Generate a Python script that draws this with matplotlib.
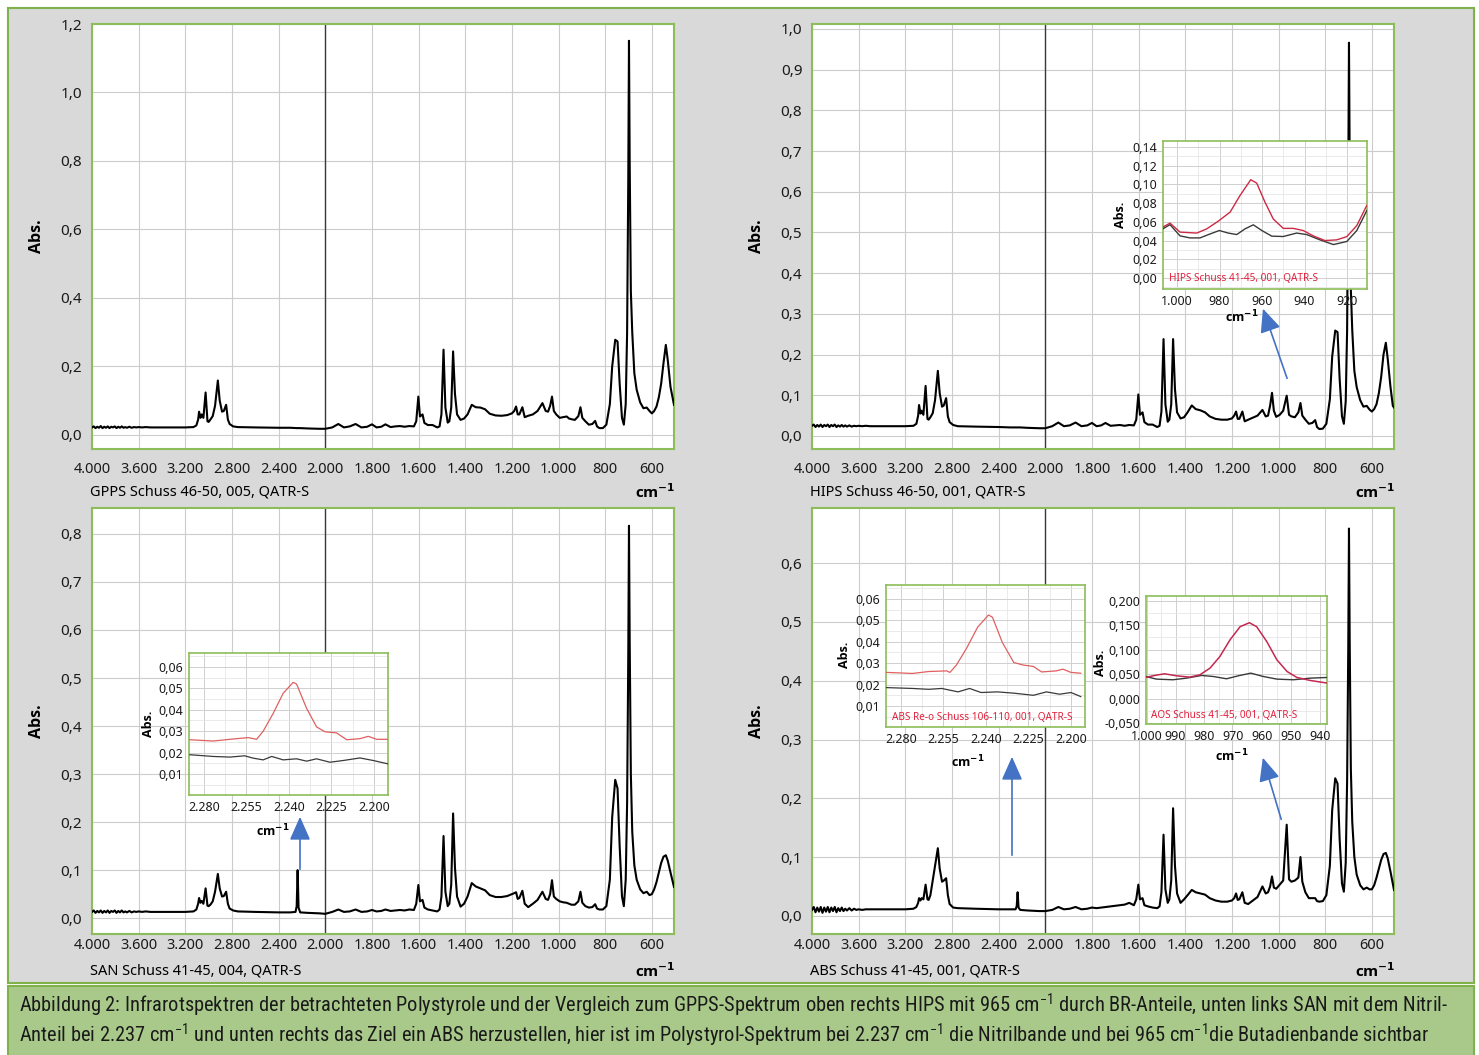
import numpy as np
import matplotlib
matplotlib.use('Agg')
import matplotlib.pyplot as plt
from matplotlib import font_manager as fm
from matplotlib.patches import Rectangle, FancyArrowPatch
from matplotlib.ticker import FixedLocator, MultipleLocator

plt.rcParams['font.family'] = ['Noto Sans', 'DejaVu Sans']

W, H = 1479, 1055

# ---------------- data ----------------
# main spectra: (wavenumber cm-1, absorbance)
gpps = [
    (4000, .022), (3985, .025), (3970, .020), (3955, .024), (3940, .021), (3925, .026),
    (3910, .020), (3895, .024), (3880, .021), (3865, .025), (3850, .020), (3835, .024),
    (3820, .022), (3805, .025), (3790, .020), (3775, .024), (3760, .021), (3745, .025),
    (3730, .021), (3715, .023), (3700, .021), (3680, .024), (3660, .021), (3640, .023),
    (3620, .022), (3600, .023), (3570, .022), (3540, .023), (3500, .022),
    (3400, .022), (3300, .022), (3200, .022), (3130, .023), (3105, .028), (3090, .045),
    (3082, .068), (3070, .050), (3060, .060), (3045, .050), (3026, .124), (3010, .040),
    (3000, .038), (2985, .045), (2965, .055), (2945, .085), (2921, .159), (2905, .100),
    (2885, .068), (2870, .070), (2850, .088), (2835, .045), (2820, .032), (2790, .025),
    (2750, .023), (2600, .022), (2400, .021), (2300, .021), (2255, .020), (2245, .020),
    (2237, .020), (2229, .020), (2215, .020), (2150, .019), (2050, .018), (2000, .018),
    (1970, .022), (1944, .032), (1920, .022), (1895, .025), (1870, .032), (1845, .022),
    (1820, .024), (1800, .031), (1780, .022), (1760, .024), (1742, .031), (1720, .023),
    (1700, .025), (1680, .026), (1660, .024), (1640, .026), (1620, .025), (1610, .040),
    (1601, .112), (1594, .054), (1583, .060), (1575, .035), (1560, .029), (1540, .029),
    (1520, .022), (1510, .025), (1502, .060), (1493, .249), (1485, .080), (1475, .036),
    (1468, .040), (1460, .080), (1452, .244), (1444, .120), (1435, .060), (1420, .044),
    (1405, .048), (1390, .060), (1372, .088), (1355, .081), (1335, .080), (1315, .075),
    (1295, .062), (1270, .057), (1245, .056), (1220, .058), (1200, .063), (1190, .070),
    (1182, .083), (1175, .060), (1168, .060), (1155, .081), (1145, .052), (1130, .056),
    (1110, .060), (1090, .070), (1069, .093), (1055, .070), (1045, .068), (1036, .085),
    (1028, .112), (1020, .070), (1010, .060), (995, .050), (980, .052), (965, .054),
    (955, .048), (945, .046), (930, .044), (915, .055), (906, .081), (898, .050),
    (885, .040), (870, .030), (855, .032), (843, .041), (835, .025), (825, .020),
    (810, .020), (795, .030), (780, .090), (770, .200), (757, .278), (747, .273),
    (738, .150), (728, .050), (720, .030), (712, .090), (706, .300), (701, .750),
    (698, 1.151), (695, .800), (690, .420), (684, .300), (675, .180), (665, .132),
    (650, .095), (636, .078), (622, .080), (610, .070), (600, .063), (590, .070),
    (580, .083), (570, .110), (560, .150), (550, .210), (540, .263), (532, .220),
    (520, .140), (505, .088),
]

hips = [
    (4000, .025), (3985, .028), (3970, .022), (3955, .027), (3940, .023), (3925, .028),
    (3910, .022), (3895, .027), (3880, .024), (3865, .028), (3850, .022), (3835, .027),
    (3820, .024), (3805, .028), (3790, .022), (3775, .026), (3760, .023), (3745, .027),
    (3730, .023), (3715, .026), (3700, .023), (3680, .026), (3660, .023), (3640, .025),
    (3620, .024), (3600, .025), (3570, .024), (3540, .025), (3500, .024),
    (3400, .024), (3300, .024), (3200, .024), (3130, .025), (3105, .030), (3090, .050),
    (3082, .076), (3070, .055), (3060, .062), (3045, .052), (3026, .123), (3010, .042),
    (3000, .040), (2985, .046), (2965, .056), (2945, .088), (2921, .160), (2905, .105),
    (2885, .072), (2870, .075), (2850, .093), (2835, .048), (2820, .034), (2790, .027),
    (2750, .024), (2600, .023), (2400, .022), (2300, .021), (2255, .021), (2245, .021),
    (2237, .021), (2229, .021), (2215, .021), (2150, .020), (2050, .019), (2000, .019),
    (1970, .024), (1944, .033), (1920, .024), (1895, .026), (1870, .033), (1845, .024),
    (1820, .026), (1800, .032), (1780, .024), (1760, .026), (1742, .032), (1720, .025),
    (1700, .026), (1680, .027), (1660, .025), (1640, .027), (1620, .026), (1610, .040),
    (1601, .102), (1594, .052), (1583, .058), (1575, .034), (1560, .028), (1540, .028),
    (1520, .022), (1510, .025), (1502, .060), (1493, .238), (1485, .078), (1475, .035),
    (1468, .040), (1460, .078), (1452, .238), (1444, .115), (1435, .058), (1420, .043),
    (1405, .046), (1390, .058), (1372, .075), (1355, .066), (1335, .063), (1315, .058),
    (1295, .048), (1270, .042), (1245, .040), (1220, .040), (1200, .043), (1190, .050),
    (1182, .060), (1175, .042), (1168, .042), (1155, .060), (1145, .036), (1130, .040),
    (1110, .045), (1090, .050), (1069, .064), (1055, .048), (1045, .050), (1036, .075),
    (1028, .106), (1020, .062), (1010, .047), (995, .052), (980, .062), (965, .099),
    (955, .052), (945, .048), (930, .046), (915, .058), (906, .081), (898, .050),
    (885, .040), (870, .030), (855, .032), (843, .039), (835, .022), (825, .017),
    (810, .018), (795, .030), (780, .090), (770, .195), (757, .259), (747, .255),
    (738, .140), (728, .048), (720, .030), (712, .085), (706, .260), (701, .650),
    (698, .966), (695, .680), (690, .360), (684, .260), (675, .160), (665, .120),
    (650, .088), (636, .072), (622, .074), (610, .065), (600, .060), (590, .066),
    (580, .078), (570, .105), (560, .145), (550, .200), (540, .229), (532, .190),
    (520, .120), (510, .074), (505, .070),
]

san = [
    (4000, .013), (3985, .016), (3970, .011), (3955, .015), (3940, .012), (3925, .016),
    (3910, .011), (3895, .015), (3880, .012), (3865, .016), (3850, .011), (3835, .015),
    (3820, .013), (3805, .016), (3790, .011), (3775, .015), (3760, .012), (3745, .016),
    (3730, .012), (3715, .014), (3700, .012), (3680, .015), (3660, .012), (3640, .014),
    (3620, .013), (3600, .014), (3570, .013), (3540, .014), (3500, .013),
    (3400, .013), (3300, .013), (3200, .013), (3130, .014), (3105, .018), (3090, .030),
    (3082, .042), (3070, .032), (3060, .036), (3045, .030), (3026, .062), (3010, .026),
    (3000, .025), (2985, .028), (2965, .035), (2945, .055), (2921, .092), (2905, .062),
    (2885, .045), (2870, .046), (2850, .055), (2835, .030), (2820, .020), (2790, .016),
    (2750, .014), (2600, .013), (2400, .012), (2300, .012), (2255, .013), (2245, .025),
    (2237, .100), (2229, .022), (2215, .012), (2150, .011), (2050, .010), (2000, .009),
    (1970, .013), (1944, .018), (1920, .013), (1895, .014), (1870, .018), (1845, .013),
    (1820, .014), (1800, .017), (1780, .014), (1760, .015), (1742, .018), (1720, .015),
    (1700, .016), (1680, .017), (1660, .016), (1640, .018), (1620, .017), (1610, .030),
    (1601, .069), (1594, .035), (1583, .038), (1575, .022), (1560, .018), (1540, .016),
    (1520, .014), (1510, .018), (1502, .045), (1493, .171), (1485, .055), (1475, .025),
    (1468, .030), (1460, .070), (1452, .218), (1444, .105), (1435, .045), (1420, .024),
    (1405, .030), (1390, .045), (1372, .073), (1355, .066), (1335, .062), (1315, .058),
    (1295, .048), (1270, .044), (1245, .044), (1220, .046), (1200, .050), (1190, .052),
    (1182, .054), (1175, .040), (1168, .042), (1155, .057), (1145, .030), (1130, .023),
    (1110, .030), (1090, .038), (1069, .055), (1055, .040), (1045, .038), (1036, .050),
    (1028, .079), (1020, .045), (1010, .040), (995, .035), (980, .033), (965, .032),
    (955, .030), (945, .028), (930, .028), (915, .035), (906, .055), (898, .032),
    (885, .025), (870, .022), (855, .023), (843, .029), (835, .020), (825, .018),
    (810, .018), (795, .025), (780, .080), (770, .210), (757, .288), (747, .270),
    (738, .150), (728, .045), (720, .025), (712, .080), (706, .240), (701, .550),
    (698, .817), (695, .580), (690, .300), (684, .180), (675, .110), (665, .080),
    (650, .060), (636, .052), (622, .055), (610, .048), (600, .050), (590, .060),
    (580, .075), (570, .095), (560, .115), (550, .128), (540, .131), (532, .120),
    (520, .095), (505, .065),
]

abs_ = [
    (4000, .010), (3985, .015), (3970, .006), (3955, .014), (3940, .007), (3925, .015),
    (3910, .005), (3895, .014), (3880, .007), (3865, .015), (3850, .006), (3835, .014),
    (3820, .008), (3805, .015), (3790, .006), (3775, .013), (3760, .008), (3745, .014),
    (3730, .008), (3715, .012), (3700, .009), (3680, .013), (3660, .009), (3640, .012),
    (3620, .010), (3600, .011), (3570, .010), (3540, .011), (3500, .011),
    (3400, .011), (3300, .011), (3200, .011), (3130, .012), (3105, .015), (3090, .022),
    (3082, .030), (3070, .026), (3060, .030), (3045, .028), (3026, .053), (3010, .028),
    (3000, .027), (2985, .035), (2965, .060), (2945, .085), (2921, .115), (2905, .080),
    (2885, .058), (2870, .060), (2850, .064), (2835, .035), (2820, .020), (2790, .014),
    (2750, .013), (2600, .012), (2400, .011), (2300, .011), (2255, .011), (2245, .016),
    (2237, .040), (2229, .014), (2215, .010), (2150, .009), (2050, .008), (2000, .008),
    (1970, .010), (1944, .015), (1920, .011), (1895, .012), (1870, .015), (1845, .011),
    (1820, .012), (1800, .014), (1780, .013), (1760, .014), (1742, .015), (1720, .016),
    (1700, .017), (1680, .018), (1660, .019), (1640, .022), (1620, .018), (1610, .028),
    (1601, .053), (1594, .028), (1583, .030), (1575, .018), (1560, .016), (1540, .014),
    (1520, .013), (1510, .016), (1502, .040), (1493, .138), (1485, .045), (1475, .022),
    (1468, .028), (1460, .060), (1452, .183), (1444, .085), (1435, .038), (1420, .022),
    (1405, .028), (1390, .035), (1372, .044), (1355, .040), (1335, .038), (1315, .036),
    (1295, .030), (1270, .026), (1245, .024), (1220, .024), (1200, .026), (1190, .030),
    (1182, .038), (1175, .027), (1168, .028), (1155, .040), (1145, .022), (1130, .020),
    (1110, .026), (1090, .032), (1069, .050), (1055, .038), (1045, .040), (1036, .050),
    (1028, .067), (1020, .048), (1010, .046), (995, .053), (980, .060), (965, .155),
    (955, .062), (945, .058), (930, .060), (915, .065), (906, .100), (898, .058),
    (885, .040), (870, .030), (855, .030), (843, .030), (835, .025), (825, .024),
    (810, .025), (795, .035), (780, .085), (770, .180), (757, .234), (747, .225),
    (738, .130), (728, .055), (720, .041), (712, .090), (706, .230), (701, .460),
    (698, .659), (695, .470), (690, .250), (684, .160), (675, .100), (665, .070),
    (650, .052), (636, .045), (622, .048), (610, .045), (600, .045), (590, .052),
    (580, .065), (570, .080), (560, .095), (550, .105), (540, .107), (532, .098),
    (520, .075), (505, .044),
]

# inset curves
hips_in_wn = [1006.7, 1003.3, 998.6, 990.7, 986.0, 980.6, 975.0, 970.4, 965.3, 962.5,
              958.6, 954.7, 950.0, 945.3, 940.6, 935.9, 930.4, 924.9, 920.1, 915.4, 910.7]
hips_in_red = [.0543, .0586, .049, .048, .0525, .0607, .0704, .088, .105, .1014,
               .081, .063, .053, .053, .0507, .045, .040, .0407, .0442, .056, .0775]
hips_in_blk_wn = [1006.7, 1003.3, 998.6, 993.9, 989.2, 984.5, 980.1, 975.9, 971.9, 968.0, 964.1,
                  960.1, 955.4, 950.0, 943.7, 939.0, 932.7, 926.4, 920.1, 915.4, 910.7]
hips_in_blk = [.0525, .057, .045, .0428, .0428, .047, .0507, .048, .0464, .0525, .0568,
               .0507, .0447, .0443, .048, .0464, .0407, .0357, .039, .0507, .072]

san_in_red_wn = [2286.6, 2275.6, 2267.8, 2259.1, 2255.2, 2252.1, 2247.4, 2242.7, 2238.0, 2236.4,
                 2231.7, 2227.0, 2223.0, 2217.6, 2212.8, 2206.6, 2202.7, 2198.7, 2193.3]
san_in_red = [.026, .0254, .0262, .027, .0262, .030, .0383, .0477, .0528, .052,
              .0407, .032, .0297, .0292, .026, .0265, .0276, .0262, .0262]
san_in_blk_wn = [2286.6, 2275.6, 2267.8, 2260.8, 2256.8, 2252.1, 2248.1, 2242.7, 2236.4, 2231.7,
                 2227.0, 2220.7, 2214.5, 2206.6, 2200.3, 2193.3]
san_in_blk = [.019, .0182, .0179, .0185, .0174, .0166, .0182, .0166, .0171, .016,
              .0171, .0155, .0163, .0175, .0163, .0147]

abs1_in_red_wn = [2286.9, 2274.6, 2266.9, 2258.5, 2256.9, 2253.9, 2249.3, 2243.9, 2238.8, 2236.9,
                  2232.3, 2226.9, 2222.3, 2217.7, 2213.8, 2206.9, 2203.8, 2200.0, 2195.4]
abs1_in_red = [.0257, .0252, .0261, .0264, .0257, .0291, .0366, .0468, .0525, .0514,
               .0397, .0303, .0291, .0285, .0259, .0264, .0272, .0257, .0253]
abs1_in_blk_wn = [2286.9, 2274.6, 2266.9, 2260.8, 2253.1, 2247.7, 2242.3, 2234.6, 2226.9, 2217.7,
                  2211.5, 2205.4, 2200.0, 2195.4]
abs1_in_blk = [.0186, .0182, .0178, .0182, .0166, .0182, .0163, .0166, .016, .015,
               .0166, .0155, .0163, .0144]

aos_in_red_wn = [1000.3, 997.2, 993.8, 989.7, 985.1, 981.6, 978.1, 974.7, 971.2, 967.7,
                 964.5, 962.0, 958.5, 955.0, 951.5, 948.1, 943.5, 937.7]
aos_in_red = [.0434, .0475, .0509, .0468, .0441, .0488, .0624, .086, .120, .147,
              .155, .147, .1166, .0793, .0556, .0434, .0373, .032]
aos_in_blk_wn = [1000.3, 996.6, 990.9, 986.2, 981.0, 977.0, 972.4, 968.3, 964.0, 959.7,
                 955.0, 949.3, 943.5, 937.7]
aos_in_blk = [.0454, .040, .0387, .042, .0475, .0454, .0407, .0468, .0522, .0454,
              .040, .0387, .042, .0434]

main_xticks = [4000, 3600, 3200, 2800, 2400, 2000, 1800, 1600, 1400, 1200, 1000, 800, 600]
main_xlabels = ['4.000', '3.600', '3.200', '2.800', '2.400', '2.000', '1.800', '1.600',
                '1.400', '1.200', '1.000', '800', '600']

names = ['GPPS Schuss 46-50, 005, QATR-S', 'HIPS Schuss 46-50, 001, QATR-S',
         'SAN Schuss 41-45, 004, QATR-S', 'ABS Schuss 41-45, 001, QATR-S']

caption1 = ('Abbildung 2: Infrarotspektren der betrachteten Polystyrole und der Vergleich zum '
            'GPPS-Spektrum oben rechts HIPS mit 965 cm$^{\\mathregular{-1}}$ durch BR-Anteile, '
            'unten links SAN mit dem Nitril-')
caption2 = ('Anteil bei 2.237 cm$^{\\mathregular{-1}}$ und unten rechts das Ziel ein ABS herzustellen, '
            'hier ist im Polystyrol-Spektrum bei 2.237 cm$^{\\mathregular{-1}}$ die Nitrilbande '
            'und bei 965 cm$^{\\mathregular{-1}}$die Butadienbande sichtbar')

GREEN = '#8cbd5a'
GRID = '#cccccc'
ARROW = '#4472c4'


def _wt(f):
    w = f.weight
    return w if isinstance(w, int) else fm.weight_dict.get(w, 400)


def pick(cands, bold=False):
    for c in cands:
        for f in fm.fontManager.ttflist:
            if f.name == c and (not bold or _wt(f) >= 600):
                return c
    return 'DejaVu Sans'


BOLD = pick(['Noto Sans', 'Open Sans', 'Lato', 'Roboto'], bold=True)
CAP = pick(['Liberation Sans Narrow', 'DejaVu Sans Condensed', 'Roboto Condensed',
            'Noto Sans'])


def box(x0, y0, x1, y1):
    return [x0 / W, 1 - y1 / H, (x1 - x0) / W, (y1 - y0) / H]


def ptxt(x, y, s, **kw):
    return fig.text(x / W, 1 - y / H, s, **kw)


def fwd(w):
    w = np.asarray(w, dtype=float)
    return np.where(w >= 2000, (w - 2000) / 400.0, (w - 2000) / 200.0)


def inv(p):
    p = np.asarray(p, dtype=float)
    return np.where(p >= 0, 2000 + 400.0 * p, 2000 + 200.0 * p)


def comma(v, nd):
    return ('{:.%df}' % nd).format(v).replace('.', ',')


def frame(ax, lw=1.5):
    for s in ax.spines.values():
        s.set_color(GREEN)
        s.set_linewidth(lw)


fig = plt.figure(figsize=(W / 100, H / 100), dpi=100)
fig.patch.set_facecolor('white')

# background panels
fig.add_artist(Rectangle((8 / W, 1 - 983 / H), 1466 / W, 975 / H, transform=fig.transFigure,
                         facecolor='#d9d9d9', edgecolor='#7fb24a', lw=1.5, zorder=0))
fig.add_artist(Rectangle((8 / W, 1 - 1056 / H), 1466 / W, 70 / H, transform=fig.transFigure,
                         facecolor='#a9c98b', edgecolor='#7fb24a', lw=1.5, zorder=0))

panels = [
    dict(b=(92, 24, 674, 449), data=gpps, ylim=(-0.041, 1.2), yt=np.arange(0, 1.21, 0.2), pad=9, cap=43),
    dict(b=(812, 24, 1394, 449), data=hips, ylim=(-0.032, 1.012), yt=np.arange(0, 1.01, 0.1), pad=9, cap=43),
    dict(b=(92, 508, 674, 934), data=san, ylim=(-0.033, 0.854), yt=np.arange(0, 0.81, 0.1), pad=3, cap=37),
    dict(b=(812, 508, 1394, 934), data=abs_, ylim=(-0.031, 0.694), yt=np.arange(0, 0.61, 0.1), pad=3, cap=37),
]

for i, p in enumerate(panels):
    x0, y0, x1, y1 = p['b']
    ax = fig.add_axes(box(x0, y0, x1, y1))
    ax.set_facecolor('white')
    ax.set_xscale('function', functions=(fwd, inv))
    wn = [d[0] for d in p['data']]
    ab = [d[1] for d in p['data']]
    ax.plot(wn, ab, color='black', lw=1.5, zorder=3)
    ax.axvline(2000, color='#3a3a3a', lw=1.0, zorder=2)
    ax.set_xlim(4000, 505)
    ax.set_ylim(*p['ylim'])
    ax.xaxis.set_major_locator(FixedLocator(main_xticks))
    ax.set_xticklabels(main_xlabels)
    ax.xaxis.set_minor_locator(FixedLocator([]))
    ax.set_yticks(p['yt'])
    ax.set_yticklabels([comma(v, 1) for v in p['yt']])
    ax.grid(True, color=GRID, lw=0.8, zorder=0)
    ax.tick_params(length=0, labelsize=10.5, colors='#1a1a1a')
    ax.tick_params(axis='x', pad=p['pad'])
    ax.tick_params(axis='y', pad=7, labelsize=11)
    frame(ax)
    cy = (y0 + y1) / 2
    ptxt(x0 - 55, cy, 'Abs.', rotation=90, ha='center', va='center', fontsize=11.5,
         fontweight='bold', family=BOLD)
    ptxt(x0 - 2, y1 + p['cap'], names[i], ha='left', va='center', fontsize=10.5)
    ptxt(x1 + 2, y1 + p['cap'], r'cm$^{\mathbf{-1}}$', ha='right', va='center', fontsize=11,
         fontweight='bold', family=BOLD)


def inset(b, xlim, ylim, xt, xl, yt, yl, xminor, yminor, curves, label, cm_xy, abs_xy):
    ax = fig.add_axes(box(*b))
    ax.set_facecolor('white')
    for wn, ab, col, lw in curves:
        ax.plot(wn, ab, color=col, lw=lw, zorder=3)
    ax.set_xlim(*xlim)
    ax.set_ylim(*ylim)
    ax.set_xticks(xt)
    ax.set_xticklabels(xl)
    ax.set_yticks(yt)
    ax.set_yticklabels(yl)
    ax.xaxis.set_minor_locator(MultipleLocator(xminor))
    ax.yaxis.set_minor_locator(MultipleLocator(yminor))
    ax.grid(True, which='major', color='#cfcfcf', lw=0.7)
    ax.grid(True, which='minor', color='#e6e6e6', lw=0.6)
    ax.tick_params(which='both', length=0, labelsize=9, colors='#1a1a1a', pad=4)
    frame(ax, 1.2)
    if label:
        ax.text(0.03, 0.07, label, transform=ax.transAxes, color='#e0203c', fontsize=7.2,
                ha='left', va='center')
    ptxt(cm_xy[0], cm_xy[1], r'cm$^{\mathbf{-1}}$', ha='center', va='center', fontsize=9,
         fontweight='bold', family=BOLD)
    ptxt(abs_xy[0], abs_xy[1], 'Abs.', rotation=90, ha='center', va='center', fontsize=9,
         fontweight='bold', family=BOLD)
    return ax


inset((1163, 141, 1367, 289), (1006.6, 910.6), (-0.0118, 0.1464),
      [1000, 980, 960, 940, 920], ['1.000', '980', '960', '940', '920'],
      np.arange(0, 0.141, 0.02), [comma(v, 2) for v in np.arange(0, 0.141, 0.02)],
      10, 0.01,
      [(hips_in_blk_wn, hips_in_blk, '#3a3a3a', 1.0), (hips_in_wn, hips_in_red, '#cc2a44', 1.0)],
      'HIPS Schuss 41-45, 001, QATR-S', (1242, 317), (1120, 215))

san_xt = [2280, 2260, 2240, 2220, 2200]
san_xl = ['2.280', '2.255', '2.240', '2.225', '2.200']
yt2 = np.arange(0.01, 0.061, 0.01)
inset((189, 653, 388, 795), (2287, 2193.4), (0.0002, 0.0665), san_xt, san_xl,
      yt2, [comma(v, 2) for v in yt2], 10, 0.005,
      [(san_in_blk_wn, san_in_blk, '#3a3a3a', 0.9), (san_in_red_wn, san_in_red, '#e06060', 0.9)],
      None, (273, 831), (148, 724))

inset((886, 585, 1085, 727), (2287, 2193.4), (0.0002, 0.0665), san_xt, san_xl,
      yt2, [comma(v, 2) for v in yt2], 10, 0.005,
      [(abs1_in_blk_wn, abs1_in_blk, '#3a3a3a', 0.9), (abs1_in_red_wn, abs1_in_red, '#e06060', 0.9)],
      'ABS Re-o Schuss 106-110, 001, QATR-S', (968, 762), (845, 655))

yt4 = np.arange(-0.05, 0.201, 0.05)
inset((1146, 596, 1327, 724), (1000.2, 937.7), (-0.0515, 0.2095),
      [1000, 990, 980, 970, 960, 950, 940], ['1.000', '990', '980', '970', '960', '950', '940'],
      yt4, [comma(v, 3) for v in yt4], 5, 0.025,
      [(aos_in_blk_wn, aos_in_blk, '#3a3a3a', 1.0), (aos_in_red_wn, aos_in_red, '#c4284f', 1.1)],
      'AOS Schuss 41-45, 001, QATR-S', (1232, 756), (1101, 663))

# arrows (tail -> head, pixels)
for (xa, ya), (xb, yb) in [((1288, 381), (1262, 306)), ((300, 872), (300, 814)),
                           ((1012, 858), (1012, 754)), ((1282, 822), (1262, 755))]:
    fig.add_artist(FancyArrowPatch((xa / W, 1 - ya / H), (xb / W, 1 - yb / H),
                                   transform=fig.transFigure, color=ARROW, lw=1.2,
                                   arrowstyle='-|>,head_length=0.9,head_width=0.4',
                                   mutation_scale=16, zorder=10))

# caption, font size fitted to the width of the first line
t1 = ptxt(19, 1005, caption1, ha='left', va='center', fontsize=12, family=CAP, color='#1a1a1a')
t2 = ptxt(19, 1035, caption2, ha='left', va='center', fontsize=12, family=CAP, color='#1a1a1a')
rend = fig.canvas.get_renderer()
w1 = t1.get_window_extent(rend).width
fs = 12 * 1424.0 / w1
t1.set_fontsize(fs)
t2.set_fontsize(fs)

fig.savefig('out.png', dpi=100, facecolor='white')
